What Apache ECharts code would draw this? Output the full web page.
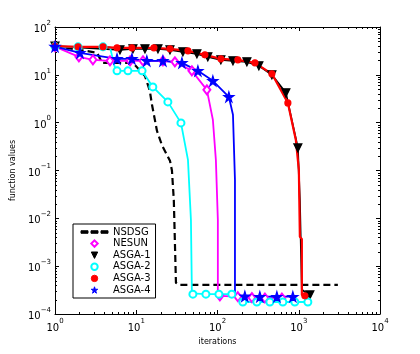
<!DOCTYPE html>
<html>
<head>
<meta charset="utf-8">
<script src="https://cdn.jsdelivr.net/npm/echarts@6/dist/echarts.min.js"></script>
<style>
  html, body { margin: 0; padding: 0; background: #fff; }
  #chart { width: 420px; height: 354px; }
</style>
</head>
<body>
<div id="chart"></div>
<script>
// [iterations, function value, marker shown?]
var nsdsg = [[1, 40], [3.3, 29], [3.8, 17.8], [9.1, 17.8], [12.8, 9.5], [14.7, 4.6], [15.6, 2.4],
  [18, 0.67], [20.7, 0.34], [26, 0.16], [27.5, 0.1], [29, 0.024], [30.8, 4.5e-4], [33.5, 4.05e-4], [3030, 4.05e-4]]
var nesun = [[1, 39, 1], [1.97, 23.8, 1], [2.93, 20.6, 1], [4.75, 19.6, 1], [8.4, 19.6, 1], [12.1, 19.6, 1],
  [21.3, 19.6, 1], [29.9, 18.7, 1], [48.4, 12.1, 1], [74, 4.85, 1], [87.7, 1.15, 0], [95.5, 0.167, 0],
  [101, 0.0093, 0], [101, 2.5e-4, 0], [107, 2.4e-4, 1], [178, 2.3e-4, 1], [265, 2.2e-4, 1], [383, 2.16e-4, 1], [620, 2.16e-4, 1]]
var asga1 = [[1, 40, 1], [6.3, 33.3, 1], [9.1, 35, 1], [12.8, 35, 1], [18.5, 35, 1], [26, 33.3, 1], [37.5, 30.3, 1],
  [55.8, 27.5, 1], [76, 23.8, 1], [110, 20.6, 1], [155, 19.6, 1], [230, 18.7, 1], [323, 15.4, 1], [467, 10, 1],
  [694, 4.2, 1], [975, 0.297, 1], [1032, 0.024, 0], [1092, 3.2e-4, 0], [1370, 2.5e-4, 1]]
var asga2 = [[1, 39, 1], [1.92, 38.5, 1], [3.9, 38.5, 1], [4.75, 38, 0], [5.47, 14, 0], [5.8, 12.1, 1], [7.9, 12.1, 1],
  [11.8, 12.1, 1], [16, 5.6, 1], [24.5, 2.72, 1], [35.5, 0.99, 1], [43.3, 0.167, 0], [47.1, 0.0093, 0],
  [48.4, 2.7e-4, 0], [49.8, 2.6e-4, 1], [72, 2.6e-4, 1], [104, 2.6e-4, 1], [150, 2.6e-4, 1], [205, 1.78e-4, 1],
  [305, 1.78e-4, 1], [441, 1.78e-4, 1], [637, 1.78e-4, 1], [895, 1.78e-4, 1], [1294, 1.78e-4, 1]]
var asga3 = [[1, 40, 1], [1.92, 38.5, 1], [3.9, 38.5, 1], [5.8, 36.7, 1], [8.85, 36.7, 1], [16.5, 36.7, 1],
  [26, 35, 1], [43.3, 31.8, 1], [70, 26.2, 1], [110, 21.6, 1], [178, 20.6, 1], [289, 17.8, 1], [467, 10.5, 1],
  [735, 2.59, 1], [921, 0.436, 0], [1003, 0.103, 0], [1032, 0.0041, 0], [1092, 0.0037, 0], [1092, 2.5e-4, 0],
  [1189, 2.4e-4, 1], [1300, 2.4e-4, 0]]
var asga4 = [[1, 39, 1], [2.03, 28.8, 1], [5.8, 21.6, 1], [8.85, 21.6, 1], [13.5, 19.6, 1], [21.3, 19.6, 1],
  [36.5, 17.8, 1], [57.4, 12.1, 1], [87.7, 7.5, 1], [138, 3.47, 1], [155, 1.46, 0], [164, 0.064, 0],
  [164, 2.35e-4, 0], [217, 2.35e-4, 1], [332, 2.3e-4, 1], [538, 2.3e-4, 1], [846, 2.3e-4, 1]]

var names = ['NSDSG', 'NESUN', 'ASGA-1', 'ASGA-2', 'ASGA-3', 'ASGA-4']
var xDecades = [0, 1, 2, 3]
var yDecades = [-4, -3, -2, -1, 0, 1]

var starPath = 'path://M50,0 L61,35 L98,35 L68,57 L79,91 L50,70 L21,91 L32,57 L2,35 L39,35 Z'
var downTri = 'path://M0,0 L10,0 L5,9 Z'
var dashIcon = 'path://M0,0h7v2.5h-7z M10,0h7v2.5h-7z M20,0h7v2.5h-7z'

function toData (pts) {
  return pts.map(function (p) {
    return p[2] ? [p[0], p[1]] : { value: [p[0], p[1]], symbol: 'none' }
  })
}

var minorX = []
xDecades.forEach(function (d) {
  for (var k = 2; k <= 9; k++) minorX.push([k * Math.pow(10, d), 1])
})
var minorY = []
yDecades.forEach(function (d) {
  for (var k = 2; k <= 9; k++) minorY.push([1, k * Math.pow(10, d)])
})

function tickX (params, api) {
  var p = api.coord([api.value(0), api.value(1)])
  var cs = params.coordSys
  var x = Math.round(p[0]) + 0.5
  return {
    type: 'group',
    children: [
      { type: 'line', shape: { x1: x, y1: cs.y + cs.height, x2: x, y2: cs.y + cs.height - 2 }, style: { stroke: '#000', lineWidth: 1 } },
      { type: 'line', shape: { x1: x, y1: cs.y, x2: x, y2: cs.y + 2 }, style: { stroke: '#000', lineWidth: 1 } }
    ]
  }
}
function tickY (params, api) {
  var p = api.coord([api.value(0), api.value(1)])
  var cs = params.coordSys
  var y = Math.round(p[1]) + 0.5
  return {
    type: 'group',
    children: [
      { type: 'line', shape: { x1: cs.x, y1: y, x2: cs.x + 2, y2: y }, style: { stroke: '#000', lineWidth: 1 } },
      { type: 'line', shape: { x1: cs.x + cs.width, y1: y, x2: cs.x + cs.width - 2, y2: y }, style: { stroke: '#000', lineWidth: 1 } }
    ]
  }
}

function powLabel (v) {
  var n = Math.round(Math.log10(v))
  var s = n < 0 ? '\u2212' + (-n) : '' + n
  return '{b|10}{e|' + s + '}'
}
var powRich = {
  b: { fontSize: 10, color: '#000', fontFamily: 'DejaVu Sans', lineHeight: 15, verticalAlign: 'bottom' },
  e: { fontSize: 7, color: '#000', fontFamily: 'DejaVu Sans', lineHeight: 8, verticalAlign: 'top' }
}

function lineSeries (name, pts, color, symbol, size, extra) {
  var s = {
    name: name,
    type: 'line',
    data: toData(pts),
    symbol: symbol,
    symbolSize: size,
    showSymbol: true,
    showAllSymbol: true,
    lineStyle: { color: color, width: 1.8 },
    itemStyle: { color: color, borderColor: color, borderWidth: 1.2 },
    emphasis: { disabled: true }
  }
  return Object.assign(s, extra || {})
}

var chart = echarts.init(document.getElementById('chart'))
chart.setOption({
  animation: false,
  textStyle: { fontFamily: 'DejaVu Sans' },
  grid: { left: 55, right: 40, top: 27, bottom: 40 },
  legend: {
    orient: 'vertical',
    left: 73,
    top: 224,
    padding: [3, 5, 3, 7],
    itemWidth: 27,
    itemHeight: 8,
    itemGap: 1.6,
    borderColor: '#000',
    borderWidth: 1,
    borderRadius: 0,
    backgroundColor: '#fff',
    selectedMode: false,
    itemStyle: { borderWidth: 1 },
    textStyle: { fontSize: 10, color: '#000', fontFamily: 'DejaVu Sans', lineHeight: 10 },
    data: [
      { name: names[0], icon: dashIcon },
      { name: names[1], lineStyle: { opacity: 0 } },
      { name: names[2], lineStyle: { opacity: 0 } },
      { name: names[3], lineStyle: { opacity: 0 } },
      { name: names[4], lineStyle: { opacity: 0 } },
      { name: names[5], lineStyle: { opacity: 0 } }
    ]
  },
  xAxis: [{
    type: 'log',
    logBase: 10,
    min: 1,
    max: 10000,
    name: 'iterations',
    nameLocation: 'middle',
    nameGap: 21,
    nameTextStyle: { fontSize: 8, color: '#000' },
    axisLine: { lineStyle: { color: '#000', width: 1 } },
    axisTick: { inside: true, length: 4, lineStyle: { color: '#000' } },
    axisLabel: { formatter: powLabel, rich: powRich, margin: 4 },
    splitLine: { show: false }
  }, {
    type: 'log',
    logBase: 10,
    min: 1,
    max: 10000,
    position: 'top',
    axisLine: { lineStyle: { color: '#000', width: 1 } },
    axisTick: { inside: true, length: 4, lineStyle: { color: '#000' } },
    axisLabel: { show: false },
    splitLine: { show: false }
  }],
  yAxis: [{
    type: 'log',
    logBase: 10,
    min: 1e-4,
    max: 100,
    splitNumber: 6,
    name: 'function values',
    nameLocation: 'middle',
    nameRotate: 90,
    nameGap: 30,
    nameTextStyle: { fontSize: 8, color: '#000' },
    axisLine: { lineStyle: { color: '#000', width: 1 } },
    axisTick: { inside: true, length: 4, lineStyle: { color: '#000' } },
    axisLabel: { formatter: powLabel, rich: powRich, margin: 4 },
    splitLine: { show: false }
  }, {
    type: 'log',
    logBase: 10,
    min: 1e-4,
    max: 100,
    splitNumber: 6,
    position: 'right',
    axisLine: { lineStyle: { color: '#000', width: 1 } },
    axisTick: { inside: true, length: 4, lineStyle: { color: '#000' } },
    axisLabel: { show: false },
    splitLine: { show: false }
  }],
  series: [
    { type: 'custom', renderItem: tickX, data: minorX, silent: true, z: 1 },
    { type: 'custom', renderItem: tickY, data: minorY, silent: true, z: 1 },
    lineSeries(names[0], nsdsg.map(function (p) { return [p[0], p[1], 0] }), '#000', 'none', 0,
      { lineStyle: { color: '#000', width: 2.2, type: [7, 4] } }),
    lineSeries(names[1], nesun, '#ff00ff', 'emptyDiamond', [7, 9]),
    lineSeries(names[2], asga1, '#000', downTri, 8),
    lineSeries(names[3], asga2, '#00ffff', 'emptyCircle', 7),
    lineSeries(names[4], asga3, '#ff0000', 'circle', 6, { lineStyle: { color: '#ff0000', width: 2.2 } }),
    lineSeries(names[5], asga4, '#0000ff', starPath, 10)
  ]
})
</script>
</body>
</html>
